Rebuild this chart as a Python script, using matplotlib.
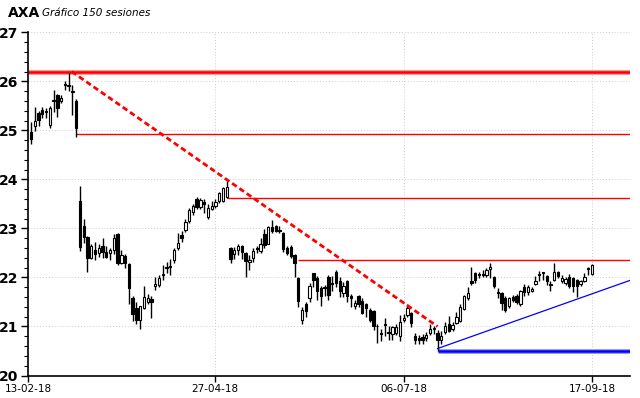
import matplotlib
matplotlib.use("Agg")
import matplotlib.pyplot as plt
import numpy as np

# daily sessions (index 0..149)
opens = [24.97, 25.08, 25.35, 25.42, 25.38, 25.10, 25.60, 25.72, 25.60, 25.93,
         25.92, 25.80, 25.60, 23.55, 23.05, 22.82, 22.40, 22.55, 22.50, 22.65,
         22.52, 22.50, 22.56, 22.88, 22.30, 22.44, 22.28, 21.58, 21.38, 21.14,
         21.38, 21.50, 21.57, 21.82, 21.85, 22.04, 22.22, 22.24, 22.36, 22.61,
         22.86, 22.97, 23.16, 23.33, 23.60, 23.44, 23.54, 23.24, 23.40, 23.46,
         23.55, 23.55, 23.64, 22.60, 22.47, 22.55, 22.65, 22.50, 22.31, 22.40,
         22.61, 22.53, 22.89, 22.69, 23.03, 23.04, 22.97, 22.90, 22.60, 22.63,
         22.46, 21.98, 21.14, 21.45, 21.58, 22.09, 21.99, 21.79, 21.80, 22.00,
         21.88, 22.12, 21.92, 21.68, 21.92, 21.62, 21.41, 21.62, 21.51, 21.45,
         21.33, 21.31, 21.02, 20.86, 21.05, 20.88, 20.84, 20.87, 20.80, 21.14,
         21.24, 21.27, 20.80, 20.76, 20.78, 20.76, 20.86, 20.94, 20.87, 20.73,
         20.88, 21.05, 20.94, 21.08, 21.12, 21.36, 21.58, 21.92, 22.09, 22.05,
         22.08, 22.04, 22.17, 22.01, 21.70, 21.68, 21.58, 21.41, 21.60, 21.63,
         21.45, 21.81, 21.70, 21.72, 21.87, 22.05, 22.09, 22.03, 21.85, 21.95,
         22.12, 21.92, 21.88, 22.01, 21.98, 21.94, 21.86, 21.92, 22.19, 22.08]

highs = [25.18, 25.48, 25.40, 25.48, 25.45, 25.50, 25.82, 25.75, 25.72, 26.00,
         26.17, 25.92, 25.65, 23.87, 23.20, 22.84, 22.68, 22.72, 22.68, 22.80,
         22.65, 22.60, 22.88, 22.90, 22.55, 22.48, 22.30, 21.62, 21.50, 21.42,
         21.83, 21.66, 21.62, 22.00, 22.05, 22.25, 22.32, 22.38, 22.60, 22.90,
         22.95, 23.20, 23.42, 23.50, 23.65, 23.62, 23.60, 23.50, 23.55, 23.60,
         23.75, 23.84, 23.96, 22.62, 22.62, 22.68, 22.66, 22.52, 22.45, 22.60,
         22.64, 22.80, 22.98, 23.05, 23.18, 23.06, 23.04, 22.92, 22.65, 22.66,
         22.48, 22.00, 21.40, 21.50, 21.88, 22.10, 22.02, 21.82, 21.85, 22.05,
         22.02, 22.15, 22.00, 21.90, 21.95, 21.66, 21.55, 21.65, 21.58, 21.48,
         21.38, 21.34, 21.05, 20.95, 21.18, 21.00, 21.02, 21.05, 21.24, 21.25,
         21.45, 21.30, 20.86, 20.82, 20.84, 20.88, 21.05, 21.00, 20.92, 20.90,
         21.10, 21.22, 21.10, 21.30, 21.45, 21.65, 21.80, 22.22, 22.12, 22.12,
         22.15, 22.20, 22.30, 22.03, 21.78, 21.70, 21.62, 21.60, 21.64, 21.66,
         21.75, 21.86, 21.85, 21.80, 22.02, 22.13, 22.12, 22.06, 21.92, 22.30,
         22.14, 22.05, 22.00, 22.08, 22.00, 21.96, 21.95, 22.10, 22.22, 22.28]

lows = [24.72, 24.98, 25.08, 25.25, 25.25, 25.05, 25.38, 25.28, 25.55, 25.82,
        25.80, 25.32, 24.87, 22.53, 22.70, 22.12, 22.38, 22.35, 22.42, 22.40,
        22.40, 22.35, 22.48, 22.25, 22.28, 22.20, 21.45, 21.12, 21.05, 20.94,
        21.35, 21.45, 21.18, 21.75, 21.80, 21.95, 22.10, 22.05, 22.30, 22.55,
        22.72, 22.92, 23.12, 23.28, 23.40, 23.40, 23.32, 23.20, 23.38, 23.42,
        23.52, 23.54, 23.62, 22.30, 22.38, 22.45, 22.38, 22.00, 22.15, 22.32,
        22.50, 22.50, 22.60, 22.68, 22.90, 22.92, 22.90, 22.52, 22.45, 22.40,
        22.00, 21.40, 21.05, 21.20, 21.50, 21.80, 21.55, 21.42, 21.62, 21.55,
        21.72, 21.80, 21.60, 21.60, 21.50, 21.40, 21.35, 21.40, 21.25, 21.20,
        21.10, 20.92, 20.67, 20.70, 20.80, 20.72, 20.72, 20.82, 20.70, 21.10,
        21.20, 20.98, 20.65, 20.65, 20.65, 20.70, 20.82, 20.85, 20.50, 20.65,
        20.85, 20.88, 20.90, 21.05, 21.10, 21.33, 21.55, 21.85, 21.88, 21.98,
        22.00, 22.00, 21.98, 21.78, 21.58, 21.33, 21.30, 21.38, 21.50, 21.45,
        21.42, 21.62, 21.65, 21.70, 21.85, 21.92, 21.95, 21.85, 21.72, 21.92,
        21.98, 21.88, 21.85, 21.78, 21.70, 21.60, 21.82, 21.90, 22.05, 22.05]

closes = [24.83, 25.20, 25.22, 25.33, 25.40, 25.46, 25.62, 25.46, 25.66, 25.95,
          25.90, 25.79, 25.04, 22.62, 22.82, 22.40, 22.65, 22.48, 22.60, 22.52,
          22.42, 22.56, 22.80, 22.30, 22.45, 22.30, 21.79, 21.25, 21.14, 21.42,
          21.60, 21.58, 21.50, 21.87, 21.99, 22.08, 22.20, 22.22, 22.56, 22.71,
          22.80, 23.13, 23.37, 23.46, 23.44, 23.58, 23.50, 23.41, 23.46, 23.53,
          23.73, 23.82, 23.84, 22.37, 22.55, 22.65, 22.52, 22.33, 22.35, 22.54,
          22.58, 22.69, 22.67, 23.03, 22.94, 22.94, 22.95, 22.58, 22.50, 22.44,
          22.29, 21.51, 21.33, 21.31, 21.83, 21.95, 21.72, 21.63, 21.78, 21.65,
          21.86, 21.89, 21.72, 21.83, 21.62, 21.58, 21.48, 21.45, 21.28, 21.38,
          21.14, 21.00, 21.00, 20.84, 21.03, 20.86, 20.99, 20.99, 21.10, 21.18,
          21.38, 21.08, 20.72, 20.72, 20.73, 20.83, 20.95, 20.96, 20.72, 20.80,
          21.00, 20.90, 21.03, 21.20, 21.40, 21.62, 21.69, 21.89, 21.95, 22.08,
          22.05, 22.16, 22.22, 21.82, 21.68, 21.48, 21.34, 21.58, 21.55, 21.50,
          21.72, 21.70, 21.81, 21.76, 21.92, 22.08, 22.11, 21.92, 21.87, 22.12,
          22.02, 21.98, 21.96, 21.82, 21.82, 21.82, 21.93, 22.01, 22.17, 22.25]

date_pos = [-0.8, 48.9, 99.1, 149]
date_labels = ["13-02-18", "27-04-18", "06-07-18", "17-09-18"]

# red resistance levels: (price, starting session)
res_levels = [24.93, 23.62, 22.35]
res_start = [12, 52, 71]
top_level = 26.2
support_level = 20.5
support_start = 108
# trend lines (session, price)
down_trend = ([10.8, 108], [26.2, 21.0])
up_trend = ([108, 159.1], [20.55, 21.94])

x_min, x_max = -0.8, 159.1

fig = plt.figure(figsize=(6.4, 3.98), dpi=100)
ax = fig.add_axes([0.04375, 0.0565, 0.9405, 0.8623])

# grid
for y in range(21, 28):
    ax.axhline(y, color="#cccccc", lw=0.7, ls=(0, (1, 2)), zorder=0)
for xp in date_pos[1:]:
    ax.axvline(xp, color="#cccccc", lw=0.7, ls=(0, (1, 2)), zorder=0)

# candles
w = 0.62
for i in range(len(opens)):
    o, h, l, c = opens[i], highs[i], lows[i], closes[i]
    ax.vlines(i, l, h, color="black", lw=1, zorder=3)
    lo, hi = min(o, c), max(o, c)
    face = "white" if c >= o else "black"
    ax.add_patch(plt.Rectangle((i - w / 2, lo), w, max(hi - lo, 0.015),
                               facecolor=face, edgecolor="black", lw=0.8, zorder=4))

# levels
ax.hlines(top_level, x_min, x_max, color="#ff9a9a", lw=3.6, zorder=2)
ax.hlines(top_level, x_min, x_max, color="#ff0000", lw=1.8, zorder=2)
for lvl, st in zip(res_levels, res_start):
    ax.hlines(lvl, st, x_max, color="#ff0000", lw=1.0, zorder=2)
ax.hlines(support_level, support_start, x_max, color="#9a9aff", lw=3.6, zorder=2)
ax.hlines(support_level, support_start, x_max, color="#0000ff", lw=1.8, zorder=2)

ax.plot(down_trend[0], down_trend[1], color="#ff0000", lw=2, ls=(0, (2, 1.2)), zorder=5)
ax.plot(up_trend[0], up_trend[1], color="#0000ff", lw=0.9, zorder=5)

ax.set_xlim(x_min, x_max)
ax.set_ylim(20, 27)
ax.spines["top"].set_visible(False)
ax.spines["right"].set_visible(False)
ax.spines["left"].set_linewidth(1.2)
ax.spines["bottom"].set_linewidth(1.2)

ax.set_yticks(range(20, 28))
ax.set_yticks(np.arange(20, 27.01, 0.2), minor=True)
ax.set_yticklabels([str(v) for v in range(20, 28)], fontsize=10, fontweight="bold")
ax.tick_params(axis="y", which="major", length=5, width=1, pad=2)
ax.tick_params(axis="y", which="minor", length=3, width=0.8)

ax.set_xticks(date_pos)
ax.set_xticklabels(date_labels, fontsize=7.5)
ax.tick_params(axis="x", length=4, width=1, pad=2)

fig.text(0.012, 0.968, "AXA", fontsize=10, fontweight="bold", va="center")
fig.text(0.066, 0.968, "Gráfico 150 sesiones", fontsize=7.5, style="italic", va="center")

fig.savefig("out.png", dpi=100)
